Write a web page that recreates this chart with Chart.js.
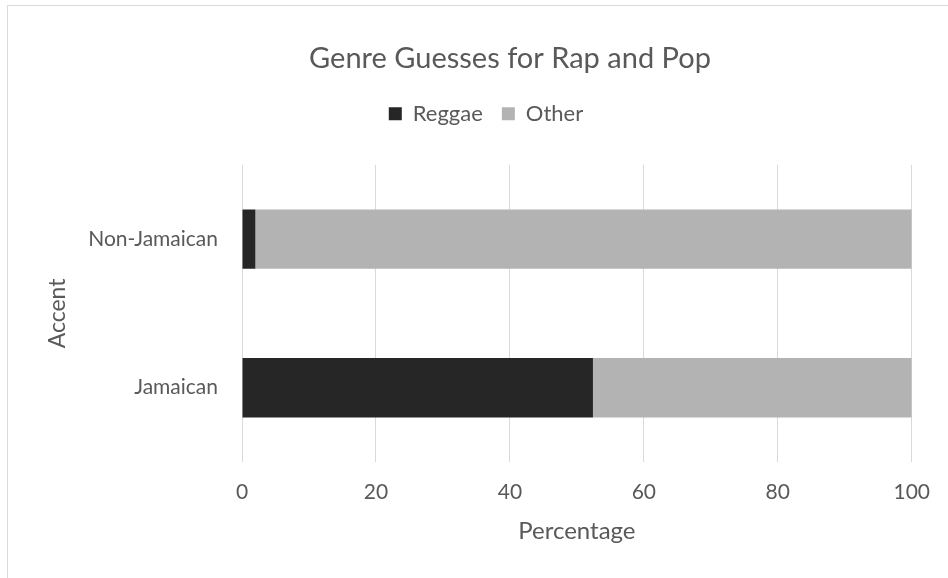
<!DOCTYPE html>
<html>
<head>
<meta charset="utf-8">
<script src="https://cdn.jsdelivr.net/npm/chart.js@4/dist/chart.umd.min.js"></script>
<style>
  html, body { margin: 0; padding: 0; background: #fff; overflow: hidden; }
  #wrap { position: relative; width: 948px; height: 578px; }
  #frame { position: absolute; left: 7px; top: 5px; width: 960px; height: 600px; border: 1px solid #d9d9d9; box-sizing: border-box; }
  #genre-chart { position: absolute; left: 0; top: 0; }
</style>
</head>
<body>
<div id="wrap">
  <div id="frame"></div>
  <canvas id="genre-chart" width="948" height="578"></canvas>
</div>
<script>
// ---- datos ----
var acentos     = ['Jamaican', 'Non-Jamaican'];
var pctReggae   = [52.4, 2];
var pctOther    = [47.6, 98];
var ticksX      = [0, 20, 40, 60, 80, 100];

var FONT = 'Lato, "Open Sans", sans-serif';
var GRIS_TXT = '#595959';

Chart.defaults.font.family = FONT;
Chart.defaults.color = GRIS_TXT;

// desplaza título y leyenda hacia la derecha (centrados como en Excel)
var _shiftCabecera = {
    id: 'shiftCabecera',
    afterLayout: function(chart) {
        chart.titleBlock.left  += 54;
        chart.titleBlock.right += 54;
        chart.legend.left  += 30;
        chart.legend.right += 30;
    }
};

window._genreChart = new Chart(document.getElementById('genre-chart'), {
    type: 'bar',
    data: {
        labels: acentos,
        datasets: [
            { label: 'Reggae', data: pctReggae, backgroundColor: '#262626', borderWidth: 0 },
            { label: 'Other',  data: pctOther,  backgroundColor: '#b3b3b3', borderWidth: 0 }
        ]
    },
    plugins: [_shiftCabecera],
    options: {
        indexAxis: 'y',
        responsive: false,
        animation: false,
        layout: { padding: { left: 0, right: 36, top: 0, bottom: 0 } },
        datasets: { bar: { categoryPercentage: 1, barPercentage: 0.4 } },
        plugins: {
            title: {
                display: true,
                text: 'Genre Guesses for Rap and Pop',
                color: GRIS_TXT,
                font: { size: 29, weight: 'normal' },
                padding: { top: 41, bottom: 8 }
            },
            legend: {
                display: true,
                position: 'top',
                labels: {
                    color: GRIS_TXT,
                    font: { size: 22 },
                    boxWidth: 13,
                    boxHeight: 13,
                    padding: 19
                }
            },
            tooltip: { enabled: false }
        },
        scales: {
            x: {
                stacked: true,
                min: 0,
                max: 100,
                afterBuildTicks: function(scale) {
                    scale.ticks = ticksX.map(function(v) { return { value: v }; });
                },
                grid: { color: '#d9d9d9', drawTicks: false },
                border: { display: false },
                ticks: { color: GRIS_TXT, font: { size: 21 }, padding: 18 },
                title: { display: true, text: 'Percentage', color: GRIS_TXT, font: { size: 24 }, padding: { top: 0, bottom: 32 } },
                afterFit: function(scale) { scale.height = 116; }
            },
            // eje vacío arriba: solo reserva espacio bajo la leyenda
            xTop: {
                position: 'top',
                display: true,
                grid: { display: false },
                border: { display: false },
                ticks: { display: false },
                afterFit: function(scale) { scale.height = 30; }
            },
            y: {
                stacked: true,
                reverse: true,
                grid: { display: false },
                border: { display: false },
                ticks: { color: GRIS_TXT, font: { size: 21 }, padding: 16 },
                title: { display: true, text: 'Accent', color: GRIS_TXT, font: { size: 23 }, padding: { top: 44, bottom: 0 } },
                afterFit: function(scale) { scale.width = 242; }
            }
        }
    }
});
</script>
</body>
</html>
